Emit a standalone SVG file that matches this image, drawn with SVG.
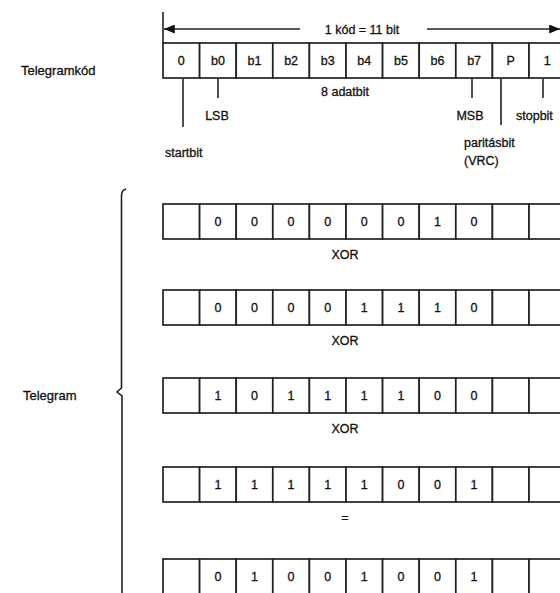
<svg xmlns="http://www.w3.org/2000/svg" width="560" height="593" viewBox="0 0 560 593">
<style>
text{font-family:"Liberation Sans",Arial,sans-serif;font-size:12.5px;fill:#111;stroke:#111;stroke-width:0.3}
.c{text-anchor:middle}
.big{font-size:13px}
.cell{fill:#fff;stroke:#222;stroke-width:1.7}
.ln{stroke:#222;stroke-width:1.6;fill:none}
</style>
<defs>
<marker id="ah" viewBox="0 0 12 10" refX="12" refY="5" markerWidth="12" markerHeight="9" orient="auto-start-reverse" markerUnits="userSpaceOnUse"><path d="M0,0 L12,5 L0,10 Z" fill="#111"/></marker>
<g id="row">
<rect class="cell" x="163" y="0" width="36.6" height="35"/>
<rect class="cell" x="199.6" y="0" width="36.6" height="35"/>
<rect class="cell" x="236.2" y="0" width="36.6" height="35"/>
<rect class="cell" x="272.8" y="0" width="36.6" height="35"/>
<rect class="cell" x="309.4" y="0" width="36.6" height="35"/>
<rect class="cell" x="346" y="0" width="36.6" height="35"/>
<rect class="cell" x="382.6" y="0" width="36.6" height="35"/>
<rect class="cell" x="419.2" y="0" width="36.6" height="35"/>
<rect class="cell" x="455.8" y="0" width="36.6" height="35"/>
<rect class="cell" x="492.4" y="0" width="36.6" height="35"/>
<rect class="cell" x="529" y="0" width="36.6" height="35"/>
</g>
</defs>
<rect width="560" height="593" fill="#fff"/>

<g id="labels">
<text class="big" x="21" y="75">Telegramkód</text>
<text class="big" x="23" y="400">Telegram</text>
</g>

<g id="telegramkod">
<use href="#row" y="43"/>
<text class="c" x="181.3" y="65">0</text>
<text class="c" x="217.9" y="65">b0</text>
<text class="c" x="254.5" y="65">b1</text>
<text class="c" x="291.1" y="65">b2</text>
<text class="c" x="327.7" y="65">b3</text>
<text class="c" x="364.3" y="65">b4</text>
<text class="c" x="400.9" y="65">b5</text>
<text class="c" x="437.5" y="65">b6</text>
<text class="c" x="474.1" y="65">b7</text>
<text class="c" x="510.7" y="65">P</text>
<text class="c" x="547.3" y="65">1</text>
<text class="c" x="362" y="34">1 kód = 11 bit</text>
<text class="c" x="345" y="96">8 adatbit</text>
<text class="c" x="217" y="120">LSB</text>
<text x="165" y="157">startbit</text>
<text class="c" x="470" y="120">MSB</text>
<text x="516" y="120">stopbit</text>
<text x="464" y="147">paritásbit</text>
<text x="464" y="165">(VRC)</text>
</g>

<g id="connectors">
<line class="ln" x1="163" y1="12" x2="163" y2="43"/>
<line class="ln" x1="300" y1="29" x2="164" y2="29" marker-end="url(#ah)"/>
<line class="ln" x1="427" y1="29" x2="560" y2="29" marker-end="url(#ah)"/>
<line class="ln" x1="183" y1="79" x2="183" y2="127"/>
<line class="ln" x1="218" y1="79" x2="218" y2="98"/>
<line class="ln" x1="472" y1="79" x2="472" y2="98"/>
<line class="ln" x1="501" y1="79" x2="501" y2="125"/>
<line class="ln" x1="543" y1="79" x2="543" y2="98"/>
<path class="ln" d="M126,189 Q121.5,190 121.5,196 L121.5,388 L117,392 L122,396 L122,593"/>
</g>

<g id="row1">
<use href="#row" y="204"/>
<text class="c" x="217.9" y="226">0</text><text class="c" x="254.5" y="226">0</text><text class="c" x="291.1" y="226">0</text><text class="c" x="327.7" y="226">0</text><text class="c" x="364.3" y="226">0</text><text class="c" x="400.9" y="226">0</text><text class="c" x="437.5" y="226">1</text><text class="c" x="474.1" y="226">0</text>
<text class="c" x="345" y="259">XOR</text>
</g>
<g id="row2">
<use href="#row" y="290"/>
<text class="c" x="217.9" y="312">0</text><text class="c" x="254.5" y="312">0</text><text class="c" x="291.1" y="312">0</text><text class="c" x="327.7" y="312">0</text><text class="c" x="364.3" y="312">1</text><text class="c" x="400.9" y="312">1</text><text class="c" x="437.5" y="312">1</text><text class="c" x="474.1" y="312">0</text>
<text class="c" x="345" y="345">XOR</text>
</g>
<g id="row3">
<use href="#row" y="378"/>
<text class="c" x="217.9" y="400">1</text><text class="c" x="254.5" y="400">0</text><text class="c" x="291.1" y="400">1</text><text class="c" x="327.7" y="400">1</text><text class="c" x="364.3" y="400">1</text><text class="c" x="400.9" y="400">1</text><text class="c" x="437.5" y="400">0</text><text class="c" x="474.1" y="400">0</text>
<text class="c" x="345" y="433">XOR</text>
</g>
<g id="row4">
<use href="#row" y="467"/>
<text class="c" x="217.9" y="489">1</text><text class="c" x="254.5" y="489">1</text><text class="c" x="291.1" y="489">1</text><text class="c" x="327.7" y="489">1</text><text class="c" x="364.3" y="489">1</text><text class="c" x="400.9" y="489">0</text><text class="c" x="437.5" y="489">0</text><text class="c" x="474.1" y="489">1</text>
<text class="c" x="345" y="522">=</text>
</g>
<g id="row5">
<use href="#row" y="559"/>
<text class="c" x="217.9" y="581">0</text><text class="c" x="254.5" y="581">1</text><text class="c" x="291.1" y="581">0</text><text class="c" x="327.7" y="581">0</text><text class="c" x="364.3" y="581">1</text><text class="c" x="400.9" y="581">0</text><text class="c" x="437.5" y="581">0</text><text class="c" x="474.1" y="581">1</text>
</g>
</svg>
